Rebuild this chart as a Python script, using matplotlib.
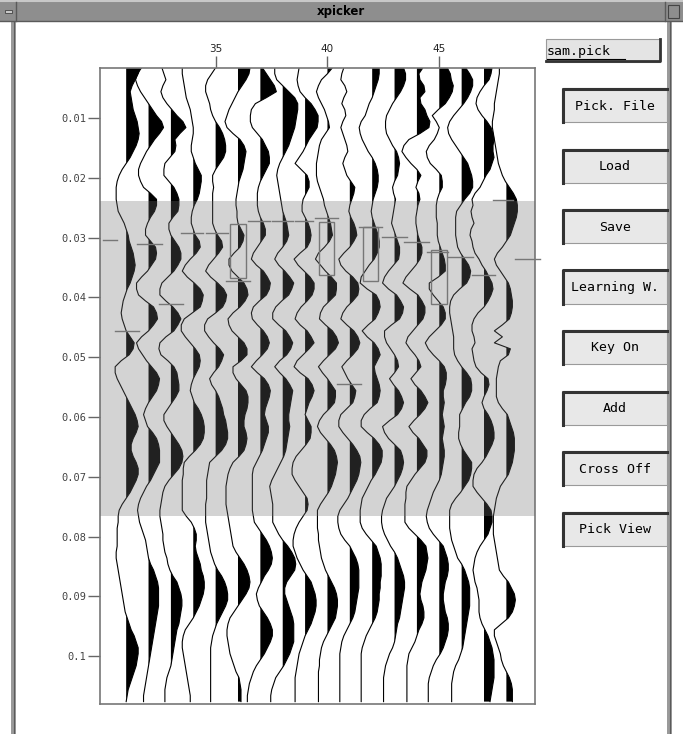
import numpy as np
import matplotlib
matplotlib.use("Agg")
import matplotlib.pyplot as plt
from matplotlib.patches import Rectangle
from matplotlib.lines import Line2D

# trace samples: first time and sample step (s)
t_start = 0.0016
t_step = 0.001
trace_numbers = list(range(31, 49))
px_per_trace = 22.36   # amplitudes below are in screen pixels

tr31 = [14, 12, 9, 6, 4, 5, 6, 7, 9, 11, 12, 13, 12, 10, 7, 4, 0, -4, -7, -9, -10, -10, -10, -9, -8, -5, -2, 0, 2, 3,
        5, 7, 8, 9, 8, 6, 4, 1, -1, -3, -4, -5, -4, -2, 0, 4, 8, 7, 3, -5, -11, -11, -9, -6, -3, 0, 3, 6, 9, 11,
        12, 10, 7, 5, 5, 7, 10, 12, 12, 10, 7, 4, 0, -4, -7, -8, -8, -9, -9, -9, -9, -10, -10, -9, -8, -7, -6, -5, -4, -3,
        -2, -1, 1, 3, 5, 8, 10, 12, 12, 11, 10, 8, 6, 4, 2, 1, 0]
tr32 = [-7, -11, -13, -11, -8, -4, 0, 4, 8, 13, 15, 11, 6, 2, -2, -5, -8, -10, -10, -8, -5, 2, 8, 8, 6, 2, -1, -3, -3, 2,
        7, 8, 7, 3, -1, -7, -12, -12, -10, -3, 5, 8, 9, 5, 0, -7, -12, -10, -6, -2, 3, 8, 11, 10, 8, 4, 0, -3, -5, -3,
        -1, 4, 8, 10, 11, 11, 11, 8, 5, 2, -2, -5, -8, -10, -11, -10, -9, -7, -5, -3, -2, -1, 0, 2, 5, 7, 9, 10, 10, 10,
        10, 9, 8, 7, 6, 5, 4, 3, 2, 1, 0, -1, -2, -3, -4, -5, -5]
tr33 = [-9, -7, -5, -8, -10, -8, -4, 1, 6, 12, 15, 9, 4, 5, 4, -1, -6, -7, -7, -2, 3, 6, 8, 8, 7, 2, -2, -2, 0, 4,
        8, 10, 10, 7, 3, -3, -9, -11, -11, -5, 2, 7, 10, 7, 3, -5, -11, -12, -10, -3, 3, 6, 7, 8, 8, 5, 1, -3, -7, -7,
        -4, 0, 4, 8, 11, 12, 11, 8, 3, -2, -6, -8, -9, -10, -11, -11, -10, -9, -8, -8, -7, -6, -4, -3, -1, 2, 6, 8, 10, 11,
        11, 10, 9, 8, 6, 5, 4, 3, 2, 1, 0, -2, -4, -5, -6, -6, -6]
tr34 = [-11, -11, -10, -9, -8, -7, -5, -3, -2, -1, 0, 0, -1, -2, -2, 0, 2, 5, 8, 8, 7, 6, 4, 1, -1, -2, -2, 0, 2, 6,
        7, 3, -3, -8, -11, -6, 1, 7, 10, 9, 7, -1, -9, -12, -12, -8, -3, 2, 6, 7, 6, 3, 0, -2, -3, -1, 1, 5, 8, 10,
        11, 11, 10, 7, 2, -4, -9, -10, -10, -11, -11, -11, -11, -11, -11, -7, -2, 1, 3, 3, 2, 3, 5, 7, 8, 10, 11, 11, 10, 8,
        6, 3, 0, -4, -8, -10, -11, -11, -10, -9, -8, -7, -6, -5, -4, -3, -3]
tr35 = [0, -4, -8, -10, -10, -8, -6, -5, -3, 0, 4, 7, 9, 10, 10, 8, 4, 0, -3, -3, -2, -3, -3, -3, -3, -3, -3, -1, 2, 6,
        7, 3, -2, -7, -10, -5, 2, 8, 11, 10, 7, 0, -8, -11, -11, -7, -2, 4, 8, 6, 3, -2, -6, -4, 0, 3, 5, 7, 8, 10,
        11, 12, 12, 10, 6, 0, -6, -7, -8, -9, -9, -9, -9, -10, -10, -10, -10, -9, -8, -7, -6, -5, -3, -1, 2, 6, 9, 11, 12, 12,
        10, 7, 4, 1, -1, -3, -4, -5, -5, -5, -5, -5, -5, -5, -5, -5, -5]
tr36 = [12, 11, 8, 4, 0, -3, -6, -9, -11, -13, -11, -5, 2, 6, 8, 7, 6, 5, 3, 1, 0, -1, -2, -2, -1, -1, 0, 3, 6, 5,
        2, -4, -9, -9, -6, 0, 6, 9, 10, 7, 2, -5, -10, -9, -6, 0, 6, 9, 9, 3, -5, -5, -2, 3, 8, 10, 10, 9, 7, 6,
        6, 8, 9, 8, 6, 1, -5, -8, -10, -11, -12, -12, -12, -12, -11, -10, -9, -8, -7, -6, -5, -2, 2, 6, 9, 11, 12, 11, 8, 4,
        0, -4, -8, -10, -11, -11, -10, -9, -8, -6, -4, -2, 1, 2, 3, 3, 3]
tr37 = [2, 6, 10, 14, 16, 6, -5, -9, -10, -10, -8, -3, 2, 5, 8, 9, 9, 6, 3, 0, -2, -3, -3, -3, -2, 0, 3, 5, 5, 1,
        -3, -7, -9, -4, 3, 7, 10, 9, 6, -1, -7, -9, -8, -3, 3, 7, 9, 7, 2, -4, -9, -3, 4, 8, 10, 9, 7, 5, 4, 6,
        8, 8, 6, 4, 2, -1, -4, -7, -8, -8, -8, -8, -8, -8, -8, -7, -6, -2, 2, 6, 9, 11, 12, 11, 8, 4, 1, -2, -4, -3,
        -1, 3, 7, 10, 12, 12, 10, 7, 4, 0, -4, -7, -9, -11, -12, -13, -13]
tr38 = [-8, -8, -6, 0, 6, 12, 15, 15, 14, 13, 12, 10, 8, 6, 3, 0, -3, -5, -6, -5, -4, -3, -2, -1, 0, 2, 4, 5, 6, 4,
        0, -5, -8, -4, 2, 7, 11, 9, 6, -1, -7, -10, -10, -4, 3, 7, 10, 8, 4, -3, -8, -3, 3, 7, 10, 9, 8, 7, 6, 6,
        7, 6, 5, 4, 3, 1, -2, -5, -8, -11, -13, -12, -11, -10, -10, -10, -10, -7, -4, 0, 5, 9, 12, 13, 12, 8, 4, 2, 2, 4,
        6, 8, 10, 11, 11, 11, 11, 9, 7, 4, 1, -3, -7, -9, -11, -12, -12]
tr39 = [-6, -7, -8, -7, -5, 0, 6, 10, 13, 13, 12, 8, 4, 1, -2, -6, -10, -4, 2, 4, 4, 1, -2, -3, -3, 0, 3, 5, 6, 5,
        2, -5, -11, -7, -1, 5, 9, 9, 7, 2, -4, -8, -10, -5, 2, 6, 9, 4, -2, -8, -11, -5, 3, 7, 9, 7, 4, 2, 0, 3,
        6, 6, 5, 1, -4, -9, -12, -13, -13, -10, -6, -2, 2, 3, 2, -2, -6, -9, -11, -12, -12, -10, -8, -5, -2, 2, 6, 8, 10, 11,
        11, 10, 8, 6, 3, 0, -2, -4, -6, -7, -8, -9, -10, -10, -10, -10, -10]
tr40 = [5, 0, -6, -9, -11, -9, -6, -3, -1, 1, 2, -2, -6, -8, -9, -10, -11, -11, -11, -10, -8, -6, -4, -3, -1, 1, 3, 4, 5, 2,
        -3, -9, -12, -7, -2, 4, 9, 9, 8, 2, -4, -7, -8, -2, 5, 9, 11, 8, 2, -4, -9, -5, 0, 4, 8, 8, 7, 2, -4, -8,
        -10, -7, -2, 3, 7, 9, 10, 9, 8, 6, 4, 1, -3, -7, -10, -10, -10, -10, -9, -9, -8, -7, -6, -4, -2, 1, 4, 7, 9, 10,
        10, 9, 8, 5, 2, -1, -4, -6, -7, -8, -8, -9, -9, -9, -9, -9, -9]
tr41 = [-6, -8, -9, -5, -3, -6, -8, -5, -4, -7, -9, -7, -5, -3, -2, -5, -7, -5, -3, 1, 5, 4, 2, 0, -1, 1, 4, 6, 7, 4,
        0, -6, -11, -9, -4, 3, 8, 9, 8, 3, -3, -7, -9, -3, 4, 8, 10, 8, 3, -3, -8, -5, -2, 2, 6, 5, 3, -3, -9, -11,
        -11, -7, -2, 3, 7, 10, 11, 10, 9, 7, 4, 1, -2, -6, -10, -12, -12, -11, -9, -5, 0, 3, 6, 8, 9, 9, 9, 9, 8, 7,
        6, 5, 3, 0, -3, -6, -8, -9, -10, -10, -10, -10, -10, -10, -10, -10, -10]
tr42 = [7, 7, 6, 4, 2, 0, -3, -5, -7, -11, -13, -12, -10, -7, -4, 0, 3, 5, 6, 6, 5, 3, 1, 0, -1, 0, 2, 4, 6, 7,
        7, 5, 2, -3, -7, -11, -12, -5, 4, 7, 8, 6, 3, -4, -10, -5, 2, 6, 8, 5, 2, 3, 5, 7, 8, 7, 5, -2, -8, -11,
        -11, -5, 2, 7, 10, 10, 9, 6, 3, -1, -4, -7, -10, -11, -12, -12, -12, -10, -6, -1, 4, 6, 8, 9, 9, 9, 8, 8, 7, 7,
        6, 5, 3, 0, -3, -6, -8, -10, -11, -11, -11, -11, -11, -11, -11, -11, -11]
tr43 = [9, 11, 11, 9, 6, 2, -2, -5, -8, -9, -9, -8, -5, -2, 2, 4, 5, 4, 3, 0, -2, -1, 1, 0, -1, -2, -3, -1, 1, 3,
        5, 5, 4, -1, -6, -10, -12, -6, 2, 6, 9, 8, 5, -3, -10, -10, -8, -4, 0, 3, 4, 0, -5, -1, 4, 7, 9, 7, 3, -5,
        -12, -10, -6, 0, 6, 8, 9, 8, 6, 3, 0, -4, -8, -10, -12, -13, -13, -12, -10, -7, -4, 0, 3, 5, 7, 9, 10, 10, 9, 8,
        7, 6, 5, 3, 2, 1, 0, -2, -5, -7, -9, -10, -11, -11, -11, -11, -11]
tr44 = [6, 2, 3, 7, 8, 3, 4, 8, 10, 13, 12, 3, -8, -13, -15, -11, -6, 0, 4, 1, -1, 2, 3, 1, 0, -1, -1, 0, 1, 3,
        5, 5, 3, -1, -6, -11, -14, -7, 1, 5, 8, 8, 6, 1, -4, -9, -11, -7, -2, 2, 4, -1, -6, -2, 4, 8, 11, 8, 3, -3,
        -8, -4, 2, 6, 10, 10, 8, 3, -2, -6, -10, -11, -11, -12, -12, -12, -12, -8, -2, 4, 9, 10, 11, 10, 9, 7, 5, 4, 3, 4,
        6, 7, 7, 5, 2, 0, -2, -5, -8, -9, -10, -10, -10, -10, -10, -10, -10]
tr45 = [8, 11, 12, 14, 13, 10, 6, -1, -7, -3, 0, -2, -5, -10, -13, -12, -9, -3, 2, 3, 3, 0, -2, -3, -3, -3, -2, -2, -2, -1,
        1, 3, 5, 6, 6, -1, -10, -10, -6, -1, 4, 6, 6, 2, -4, -10, -14, -11, -6, 0, 5, 7, 7, 6, 4, 4, 5, 4, 3, 4,
        5, 4, 3, 4, 5, 5, 4, 3, 2, 0, -3, -6, -8, -10, -12, -13, -12, -10, -6, -1, 4, 6, 8, 9, 9, 8, 6, 5, 4, 4,
        5, 6, 8, 9, 9, 8, 6, 4, 1, -3, -6, -8, -10, -11, -11, -11, -11]
tr46 = [4, 8, 11, 11, 9, 6, 2, -3, -8, -12, -14, -13, -10, -6, -2, 2, 6, 8, 10, 11, 11, 8, 3, -1, -5, -6, -6, -6, -6, -5,
        -4, -1, 3, 7, 9, 8, 5, -2, -8, -11, -12, -12, -11, -10, -9, -8, -8, -8, -7, -4, 0, 5, 9, 10, 10, 8, 4, 1, -2, -2,
        -2, -3, -3, -1, 2, 6, 10, 10, 9, 7, 3, -1, -6, -10, -12, -12, -12, -12, -11, -10, -8, -6, -4, 0, 3, 5, 7, 8, 8, 8,
        8, 7, 6, 5, 4, 3, 2, 1, -1, -3, -6, -8, -9, -10, -10, -10, -10]
tr47 = [8, 7, 5, 0, -4, -7, -8, -6, -2, 3, 7, 9, 10, 9, 9, 10, 8, 6, 2, -1, -4, -9, -12, -11, -13, -12, -10, -13, -14, -12,
        -11, -9, -5, -2, 2, 5, 8, 9, 7, 4, 0, -6, -10, -12, -12, -10, -9, -12, -11, -10, -8, -3, 4, 5, 3, 0, -2, 0, 4, 7,
        9, 10, 10, 8, 5, 2, -2, -7, -10, -11, -11, -7, -2, 3, 7, 8, 8, 6, 4, 0, -4, -7, -9, -10, -11, -10, -9, -7, -6, -5,
        -5, -5, -4, -2, 1, 4, 6, 8, 9, 10, 10, 10, 10, 9, 8, 7, 6]
tr48 = [-7, -7, -8, -9, -10, -11, -12, -12, -13, -14, -14, -13, -12, -11, -10, -9, -8, -6, -4, -1, 3, 7, 10, 11, 11, 10, 8, 6, 4, 0,
        -4, -9, -12, -10, -6, -2, 2, 4, 5, 6, 6, 5, 3, -4, -12, -4, -12, 4, 2, -6, -8, -9, -10, -10, -10, -10, -8, -4, 1, 3,
        5, 7, 8, 8, 8, 7, 6, 4, 2, -2, -6, -8, -10, -11, -12, -13, -13, -13, -13, -12, -11, -10, -9, -8, -7, -3, 2, 5, 8, 9,
        8, 6, 2, -5, -12, -12, -10, -8, -6, -5, -3, 0, 3, 5, 6, 6, 6]
traces = [tr31, tr32, tr33, tr34, tr35, tr36, tr37, tr38, tr39, tr40,
          tr41, tr42, tr43, tr44, tr45, tr46, tr47, tr48]

# axis ticks
time_ticks = [0.01, 0.02, 0.03, 0.04, 0.05, 0.06, 0.07, 0.08, 0.09, 0.1]
time_labels = ["0.01", "0.02", "0.03", "0.04", "0.05", "0.06", "0.07", "0.08", "0.09", "0.1"]
trace_ticks = [35, 40, 45]

# selected time window (grey band)
window_start, window_end = 0.0239, 0.0766

# picks: (trace from, trace to, time)
pick_lines = [(29.96, 30.59, 0.0304), (31.48, 32.60, 0.0311), (33.45, 34.43, 0.0292),
              (34.57, 35.55, 0.0292), (35.46, 36.53, 0.0373), (36.44, 37.43, 0.0273),
              (37.52, 38.46, 0.0273), (38.55, 39.35, 0.0273), (39.44, 40.47, 0.0268),
              (41.41, 42.44, 0.0282), (42.44, 43.56, 0.0299), (43.43, 44.55, 0.0307),
              (44.46, 45.40, 0.0324), (45.40, 46.52, 0.0332), (46.46, 47.49, 0.0363),
              (47.40, 48.30, 0.0237), (48.39, 49.50, 0.0336), (30.50, 31.57, 0.0456),
              (32.46, 33.54, 0.0411), (40.42, 41.50, 0.0545)]
# pick boxes: (trace from, trace to, time from, time to)
pick_boxes = [(35.64, 36.34, 0.0278, 0.0367), (39.63, 40.30, 0.0274, 0.0363),
              (41.60, 42.27, 0.0282, 0.0373), (44.62, 45.33, 0.0321, 0.0411)]

file_name = "sam.pick"
buttons = ["Pick. File", "Load", "Save", "Learning W.", "Key On", "Add", "Cross Off", "Pick View"]

W, H = 683, 734
fig = plt.figure(figsize=(W / 100, H / 100), dpi=100)
fig.patch.set_facecolor("white")


def fbox(x0, y0, x1, y1, **kw):
    fig.add_artist(Rectangle((x0 / W, 1 - y1 / H), (x1 - x0) / W, (y1 - y0) / H,
                             transform=fig.transFigure, **kw))


def fline(xs, ys, **kw):
    fig.add_artist(Line2D([x / W for x in xs], [1 - y / H for y in ys],
                          transform=fig.transFigure, **kw))


ax = fig.add_axes([100 / W, 1 - 704 / H, 435 / W, 636 / H])
ax.set_xlim(29.83, 49.28)
ax.set_ylim(0.108, 0.00164)

for n, amp in zip(trace_numbers, traces):
    a = np.array(amp, dtype=float) / px_per_trace
    t = t_start + t_step * np.arange(len(a))
    ax.fill_betweenx(t, n, n + a, where=a > 0, interpolate=True, color="black", lw=0, zorder=2)
    ax.plot(n + a, t, color="black", lw=0.8, zorder=2)

ax.axhspan(window_start, window_end, color="0.435", alpha=0.306, lw=0, zorder=3)

for x0, x1, t in pick_lines:
    ax.plot([x0, x1], [t, t], color="#777777", lw=1.0, zorder=4, clip_on=False)
for x0, x1, t0, t1 in pick_boxes:
    ax.add_patch(Rectangle((x0, t0), x1 - x0, t1 - t0, fill=False, ec="#777777", lw=1.0, zorder=4))

ax.set_yticks(time_ticks)
ax.set_yticklabels(time_labels, family="DejaVu Sans Mono", fontsize=7.5, color="#444444")
ax.tick_params(axis="y", direction="out", length=9, width=1, color="#666666", pad=1)
ax.xaxis.tick_top()
ax.set_xticks(trace_ticks)
ax.set_xticklabels([str(v) for v in trace_ticks], fontsize=7.5, color="#222222")
ax.tick_params(axis="x", direction="out", length=9, width=1, color="#666666", pad=1)
for s in ax.spines.values():
    s.set_color("#777777")
    s.set_linewidth(1.2)

# window frame
fbox(0, 0, 683, 22, fc="#8e8e8e", ec="none")
fline([0, 683], [1, 1], color="#c8c8c8", lw=1.5)
fline([0, 683], [21, 21], color="#5a5a5a", lw=1)
fline([16, 16], [2, 21], color="#5a5a5a", lw=1)
fline([665, 665], [2, 21], color="#5a5a5a", lw=1)
fbox(5, 10, 12, 13, fc="#c8c8c8", ec="#444444", lw=0.6)
fbox(668, 5, 679, 18, fc="none", ec="#444444", lw=0.8)
fig.text(341 / W, 1 - 11 / H, "xpicker", ha="center", va="center",
         fontsize=8.5, fontweight="bold", color="black")
fbox(11, 22, 16, 734, fc="#9a9a9a", ec="none")
fline([13.5, 13.5], [22, 734], color="#5a5a5a", lw=0.8)
fbox(667, 22, 672, 734, fc="#9a9a9a", ec="none")
fline([669.5, 669.5], [22, 734], color="#5a5a5a", lw=0.8)

# file name field
fbox(546, 39, 660, 62, fc="#e4e4e4", ec="#9a9a9a", lw=0.8)
fline([546, 660, 660], [61, 61, 39], color="#333333", lw=2)
fig.text(547 / W, 1 - 51 / H, file_name, ha="left", va="center",
         family="DejaVu Sans Mono", fontsize=9.5, color="black")
fline([547, 625], [59, 59], color="black", lw=0.8)

# buttons
for i, label in enumerate(buttons):
    y0 = 88 + 60.5 * i
    fbox(562, y0, 667, y0 + 34, fc="#e8e8e8", ec="#9a9a9a", lw=0.8)
    fline([563, 563, 667], [y0 + 34, y0 + 1, y0 + 1], color="#333333", lw=2.2)
    fig.text(615 / W, 1 - (y0 + 18) / H, label, ha="center", va="center",
             family="DejaVu Sans Mono", fontsize=9.5, color="black")

fig.savefig("out.png", dpi=100)
